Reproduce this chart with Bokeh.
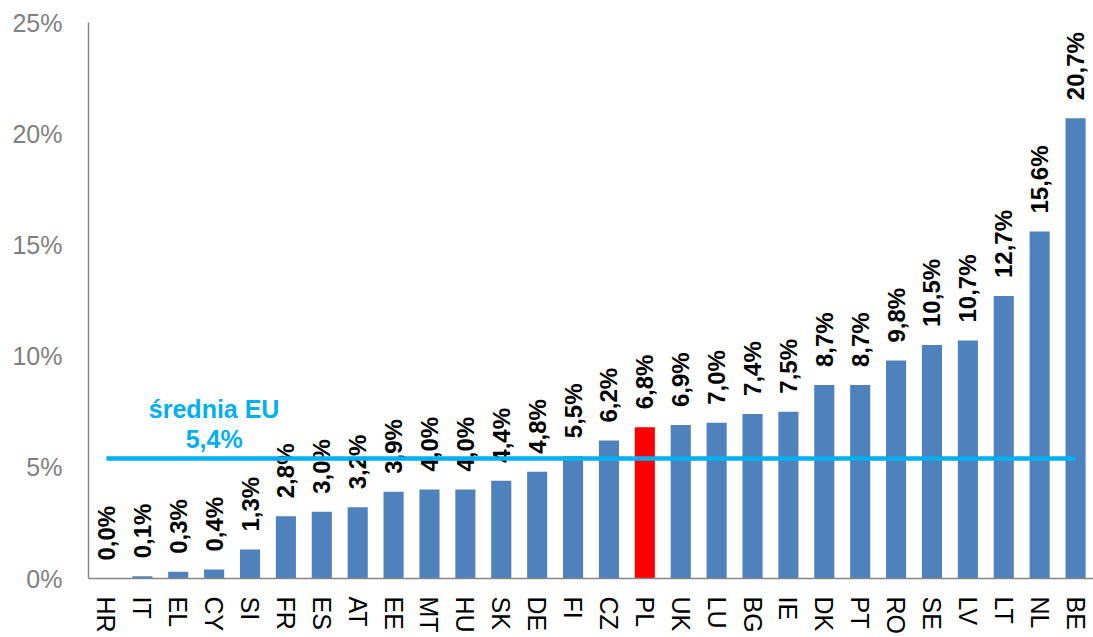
import math
from bokeh.plotting import figure
from bokeh.models import ColumnDataSource, FixedTicker
from bokeh.core.properties import value
from bokeh.embed import file_html
from bokeh.resources import INLINE

countries = ["HR", "IT", "EL", "CY", "SI", "FR", "ES", "AT", "EE", "MT", "HU", "SK", "DE", "FI",
             "CZ", "PL", "UK", "LU", "BG", "IE", "DK", "PT", "RO", "SE", "LV", "LT", "NL", "BE"]
values = [0.0, 0.1, 0.3, 0.4, 1.3, 2.8, 3.0, 3.2, 3.9, 4.0, 4.0, 4.4, 4.8, 5.5,
          6.2, 6.8, 6.9, 7.0, 7.4, 7.5, 8.7, 8.7, 9.8, 10.5, 10.7, 12.7, 15.6, 20.7]
highlight = "PL"
eu_average = 5.4
avg_label = "średnia EU"
y_ticks = [0, 5, 10, 15, 20, 25]

FONT = "Liberation Sans"
BLUE = "#4F81BD"
RED = "#FF0000"
CYAN = "#00B0F0"

labels = [f"{v:.1f}".replace(".", ",") + "%" for v in values]
colors = [RED if c == highlight else BLUE for c in countries]
src = ColumnDataSource(dict(x=countries, top=values, label=labels, color=colors))

p = figure(x_range=countries, y_range=(0, 25), width=1093, height=637,
           output_backend="svg", toolbar_location=None,
           min_border_left=88, min_border_right=0, min_border_top=22, min_border_bottom=57)
p.x_range.range_padding = 0
p.outline_line_color = None
p.xgrid.grid_line_color = None
p.ygrid.grid_line_color = None
p.background_fill_color = "white"

p.vbar(x="x", top="top", width=0.56, color="color", line_color=None, source=src)

p.text(x="x", y="top", text="label", source=src, angle=math.pi / 2,
       text_align="left", text_baseline="middle", y_offset=-18,
       text_font=value(FONT), text_font_style="bold", text_font_size="24px",
       text_color="black")

p.segment(x0=[countries[0]], x1=[countries[-1]], y0=[eu_average], y1=[eu_average],
          line_color=CYAN, line_width=4.5)

avg_text = f"{eu_average:.1f}".replace(".", ",") + "%"
p.text(x=[countries[3]], y=[eu_average], text=[avg_text], text_align="center",
       text_baseline="alphabetic", y_offset=-19, text_font=value(FONT),
       text_font_style="bold", text_font_size="25px", text_color=CYAN)
p.text(x=[countries[3]], y=[eu_average], text=[avg_label], text_align="center",
       text_baseline="alphabetic", y_offset=-49, text_font=value(FONT),
       text_font_style="bold", text_font_size="25px", text_color=CYAN)

p.yaxis.ticker = FixedTicker(ticks=y_ticks)
p.yaxis.major_label_overrides = {t: f"{t}%" for t in y_ticks}
p.yaxis.major_label_text_font = FONT
p.yaxis.major_label_text_font_size = "25px"
p.yaxis.major_label_text_color = "#808080"
p.yaxis.major_tick_line_color = None
p.yaxis.minor_tick_line_color = None
p.yaxis.axis_line_color = "#868686"
p.yaxis.axis_line_width = 1.5
p.yaxis.major_label_standoff = 20

p.xaxis.major_label_orientation = "vertical"
p.xaxis.major_label_text_font = FONT
p.xaxis.major_label_text_font_size = "25px"
p.xaxis.major_label_text_color = "black"
p.xaxis.major_tick_line_color = None
p.xaxis.axis_line_color = "#868686"
p.xaxis.axis_line_width = 1.5
p.xaxis.major_label_standoff = 12

open("out.html", "w").write(file_html(p, INLINE))
